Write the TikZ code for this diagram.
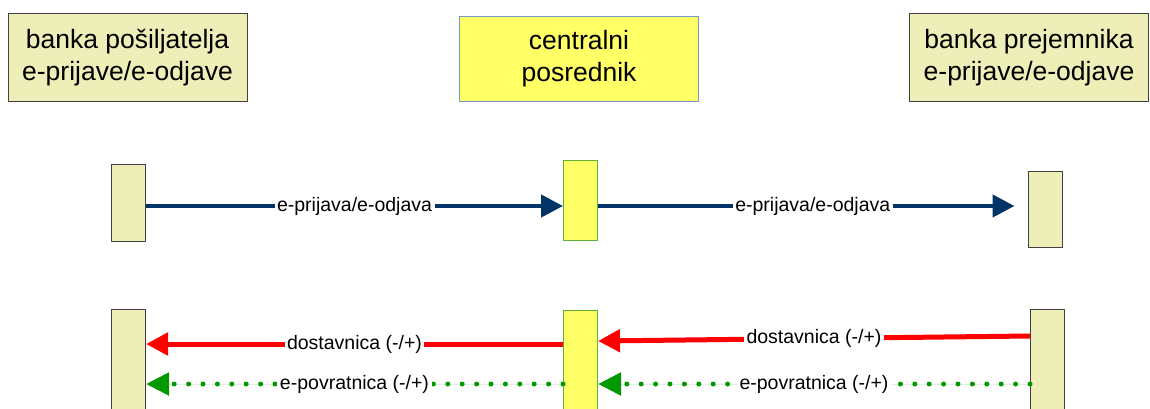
\documentclass[tikz,border=0pt]{standalone}
\usepackage{fontspec}
\setmainfont{Liberation Sans}
\usetikzlibrary{arrows.meta}
\definecolor{bankfill}{RGB}{238,238,184}
\definecolor{posfill}{RGB}{255,255,102}
\definecolor{posedge}{RGB}{120,150,205}
\definecolor{baredge}{RGB}{95,175,50}
\definecolor{navyline}{RGB}{0,51,102}
\definecolor{redline}{RGB}{255,0,0}
\definecolor{greendot}{RGB}{0,153,0}

\begin{document}
\begin{tikzpicture}[line cap=round,line join=round,x=1pt,y=-1pt,
    bank/.style={draw=black!75,fill=bankfill,line width=1pt,minimum width=239pt,minimum height=88pt,
      align=center,inner sep=0pt,font=\fontsize{26.5}{32}\selectfont},
    posbox/.style={bank,draw=posedge,fill=posfill,minimum height=85pt},
    bankbar/.style={draw=black!75,fill=bankfill,line width=1pt,minimum width=34pt,inner sep=0pt},
    posbar/.style={bankbar,draw=baredge,fill=posfill},
    lbl/.style={fill=white,inner xsep=2.5pt,inner ysep=1pt,font=\fontsize{19.5}{21}\selectfont},
    msg/.style={line width=4.5pt,line cap=butt,-{Triangle[length=22pt,width=22pt]}},
    ret/.style={line width=5pt,line cap=round,dash pattern=on 0pt off 14.4pt,
      -{Triangle[length=23pt,width=22pt]}}]
    \clip (0,0) rectangle (1150,408);
    % headers
    \node[bank] (sender) at (127.5,57.5) {banka pošiljatelja\\e-prijave/e-odjave};
    \node[posbox] (hub) at (579,59) {centralni\\posrednik};
    \node[bank] (receiver) at (1029,57.5) {banka prejemnika\\e-prijave/e-odjave};
    % activation bars
    \node[bankbar,minimum height=77pt] (sbar1) at (128.5,202.5) {};
    \node[posbar,minimum height=80pt] (hbar1) at (580.5,200) {};
    \node[bankbar,minimum height=76pt] (rbar1) at (1045,209) {};
    \node[bankbar,minimum height=112pt] (sbar2) at (128.5,365) {};
    \node[posbar,minimum height=112pt] (hbar2) at (580.5,366) {};
    \node[bankbar,minimum height=112pt] (rbar2) at (1047.5,365) {};
    \coordinate (row1) at (0,206);
    \coordinate (row2) at (0,344);
    \coordinate (row2r) at (0,336);
    \coordinate (row2h) at (0,341);
    \coordinate (row3) at (0,384);
    % messages
    \draw[msg,draw=navyline,fill=navyline] (sbar1.east |- row1) -- (hbar1.west |- row1)
      node[midway,lbl] {e-prijava/e-odjava};
    \draw[msg,draw=navyline,fill=navyline,shorten >=13pt] (hbar1.east |- row1) -- (rbar1.west |- row1)
      node[midway,lbl] {e-prijava/e-odjava};
    \draw[msg,line width=5pt,draw=redline,fill=redline] (rbar2.west |- row2r) -- (hbar2.east |- row2h)
      node[midway,lbl] {dostavnica (-/+)};
    \draw[msg,line width=5pt,draw=redline,fill=redline] (hbar2.west |- row2) -- (sbar2.east |- row2)
      node[midway,lbl] {dostavnica (-/+)};
    \draw[ret,draw=greendot,fill=greendot] (rbar2.west |- row3) -- (hbar2.east |- row3)
      node[midway,lbl] {e-povratnica (-/+)};
    \draw[ret,draw=greendot,fill=greendot] (hbar2.west |- row3) -- (sbar2.east |- row3)
      node[midway,lbl] {e-povratnica (-/+)};
\end{tikzpicture}
\end{document}
